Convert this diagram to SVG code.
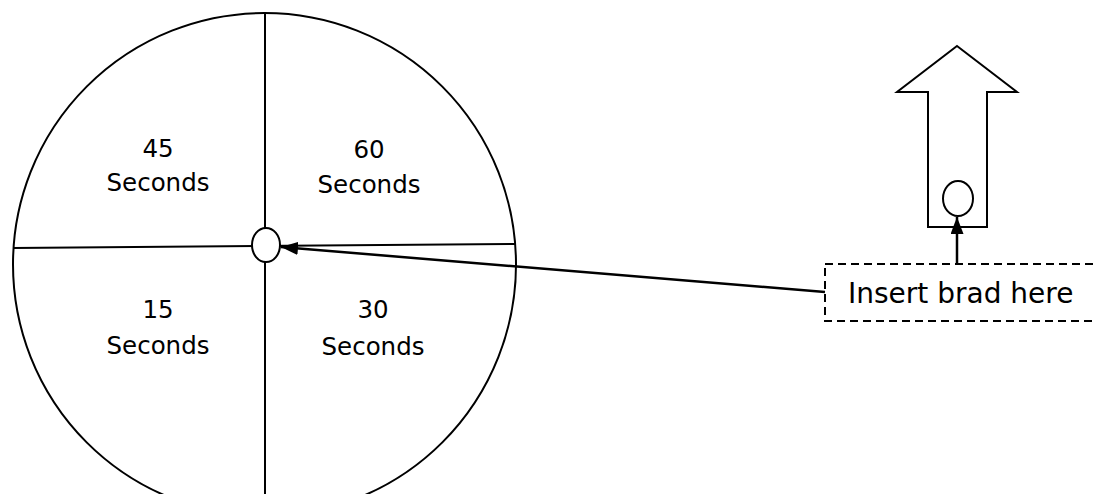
<svg xmlns="http://www.w3.org/2000/svg" width="1097" height="494" viewBox="0 0 1097 494">
<style>
.s{fill:none;stroke:#000;stroke-width:2}
.t{font-family:"DejaVu Sans",Verdana,sans-serif;font-size:24.5px;fill:#000;text-anchor:middle}
.c{stroke:#000;stroke-width:2.5;fill:none}
</style>
<defs>
<marker id="ah" viewBox="0 0 17 13" refX="17" refY="6.5" markerWidth="17" markerHeight="13" markerUnits="userSpaceOnUse" orient="auto">
<path d="M0,0 L17,6.5 L0,13 Z" fill="#000"/>
</marker>
</defs>
<rect width="1097" height="494" fill="#fff"/>
<g id="wheel">
<circle class="s" cx="264.5" cy="264.5" r="251.5"/>
<line class="s" x1="265" y1="13" x2="265" y2="494"/>
<line class="s" x1="13" y1="248" x2="516" y2="244"/>
<ellipse cx="266" cy="245" rx="14" ry="17" fill="#fff" stroke="#000" stroke-width="2"/>
</g>
<g id="q45"><text class="t" x="158" y="157">45</text><text class="t" x="158" y="191">Seconds</text></g>
<g id="q60"><text class="t" x="369" y="158">60</text><text class="t" x="369" y="193">Seconds</text></g>
<g id="q15"><text class="t" x="158" y="318">15</text><text class="t" x="158" y="354">Seconds</text></g>
<g id="q30"><text class="t" x="373" y="318">30</text><text class="t" x="373" y="355">Seconds</text></g>
<g id="pointer">
<polygon class="s" points="957,46 1017,92 987,92 987,227 928,227 928,92 897,92"/>
<ellipse cx="958" cy="198.5" rx="15" ry="17.5" fill="#fff" stroke="#000" stroke-width="2"/>
</g>
<g id="label">
<rect x="825" y="264" width="300" height="57" fill="none" stroke="#000" stroke-width="2" stroke-dasharray="8,5"/>
<text x="848" y="303" font-family="DejaVu Sans,Verdana,sans-serif" font-size="28" fill="#000">Insert brad here</text>
</g>
<g id="connectors">
<line class="c" x1="825" y1="292" x2="281" y2="247" marker-end="url(#ah)"/>
<line class="c" x1="957" y1="264" x2="957" y2="217" marker-end="url(#ah)"/>
</g>
</svg>
